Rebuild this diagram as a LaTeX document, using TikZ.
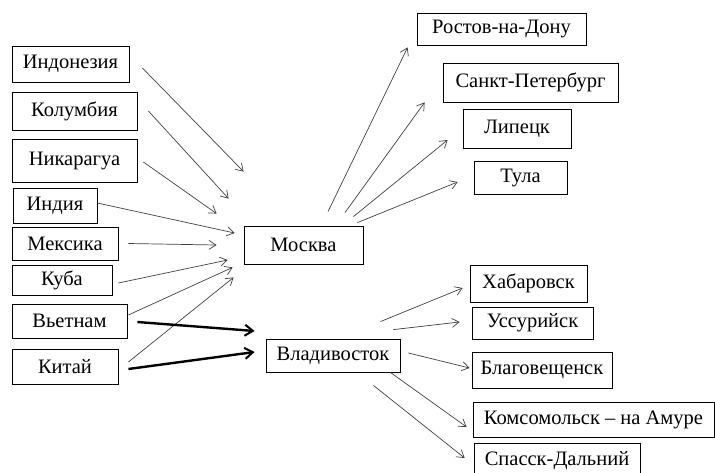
\documentclass[tikz,border=0pt]{standalone}
\usepackage{fontspec}
\setmainfont{Liberation Serif}
\usetikzlibrary{arrows.meta}

\begin{document}
\begin{tikzpicture}[x=1pt, y=-1pt,
  box/.style={rectangle, draw, line width=0.8pt, inner sep=0pt, font=\fontsize{20.5}{23}\selectfont},
  arr/.style={-{Straight Barb[length=7pt, width=9pt]}, draw=black!75, line width=0.7pt},
  fat/.style={-{Straight Barb[length=8pt, width=11pt, line width=2pt]}, line width=2.4pt}]
\useasboundingbox (0,0) rectangle (715,472);

\node[box, minimum width=117pt, minimum height=36pt] (Ind) at (70.5,64) {Индонезия};
\node[box, minimum width=125pt, minimum height=38pt] (Kol) at (74.5,111) {Колумбия};
\node[box, minimum width=125pt, minimum height=43pt] (Nik) at (74.5,160.5) {Никарагуа};
\node[box, minimum width=84pt, minimum height=35pt] (India) at (55,205.5) {Индия};
\node[box, minimum width=106pt, minimum height=33pt] (Mex) at (65,243.5) {Мексика};
\node[box, minimum width=100pt, minimum height=30pt] (Kuba) at (62,280) {Куба};
\node[box, minimum width=115pt, minimum height=34pt] (Viet) at (69.5,321) {Вьетнам};
\node[box, minimum width=106pt, minimum height=35pt] (Kit) at (65,366.5) {Китай};

\node[box, minimum width=119pt, minimum height=38pt] (Msk) at (303.5,245) {Москва};
\node[box, minimum width=134pt, minimum height=33pt] (Vlad) at (333,355.5) {Владивосток};

\node[box, minimum width=169pt, minimum height=32pt] (Rost) at (501.5,29) {Ростов-на-Дону};
\node[box, minimum width=175pt, minimum height=39pt] (Spb) at (530.5,82.5) {Санкт-Петербург};
\node[box, minimum width=108pt, minimum height=39pt] (Lip) at (517,128.5) {Липецк};
\node[box, minimum width=93pt, minimum height=33pt] (Tula) at (520.5,177.5) {Тула};

\node[box, minimum width=117pt, minimum height=37pt] (Hab) at (528.5,283.5) {Хабаровск};
\node[box, minimum width=121pt, minimum height=32pt] (Uss) at (532.5,323) {Уссурийск};
\node[box, minimum width=140pt, minimum height=36pt] (Blag) at (542,370) {Благовещенск};
\node[box, minimum width=241pt, minimum height=35pt] (Koms) at (593.5,419.5) {Комсомольск – на Амуре};
\node[box, minimum width=166pt, minimum height=35pt] (Spas) at (557,460.5) {Спасск-Дальний};

% into Moscow
\draw[arr] ([shift={(13,4)}]Ind.east) -- ([shift={(0,-54)}]Msk.north west);
\draw[arr] ([shift={(11,0)}]Kol.east) -- ([shift={(-15,-27)}]Msk.north west);
\draw[arr] ([shift={(6,1.5)}]Nik.east) -- ([shift={(-27,-12)}]Msk.north west);
\draw[arr] ([shift={(0,-2.5)}]India.east) -- ([shift={(-9,-12)}]Msk.west);
\draw[arr] ([shift={(10,0)}]Mex.east) -- ([shift={(-27,0)}]Msk.west);
\draw[arr] ([shift={(6,3)}]Kuba.east) -- ([shift={(-16,15)}]Msk.west);
\draw[arr] ([shift={(1,-6)}]Viet.east) -- ([shift={(-11,3)}]Msk.south west);
\draw[arr] ([shift={(10,-4.5)}]Kit.east) -- ([shift={(-10,13)}]Msk.south west);

% into Vladivostok
\draw[fat] ([shift={(10,1)}]Viet.east) -- ([shift={(-11,-24.5)}]Vlad.west);
\draw[fat] ([shift={(10,2.5)}]Kit.east) -- ([shift={(-11,-3.5)}]Vlad.west);

% out of Moscow
\draw[arr] ([shift={(24.5,-14)}]Msk.north) -- ([shift={(-9,2)}]Rost.south west);
\draw[arr] ([shift={(41.5,-13)}]Msk.north) -- ([shift={(-18,0)}]Spb.south west);
\draw[arr] ([shift={(-10,-9)}]Msk.north east) -- ([shift={(-15,11.5)}]Lip.west);
\draw[arr] ([shift={(-6,-3)}]Msk.north east) -- ([shift={(-16,4.5)}]Tula.west);

% out of Vladivostok
\draw[arr] ([shift={(-20,-17)}]Vlad.north east) -- ([shift={(-7,4.5)}]Hab.west);
\draw[arr] ([shift={(-7,-9)}]Vlad.north east) -- ([shift={(-12,-1)}]Uss.west);
\draw[arr] ([shift={(8,-2.5)}]Vlad.east) -- ([shift={(-2,-2)}]Blag.west);
\draw[arr] ([shift={(-10,0)}]Vlad.south east) -- ([shift={(-6,7.5)}]Koms.west);
\draw[arr] ([shift={(-27,13)}]Vlad.south east) -- ([shift={(-9,-2.5)}]Spas.west);
\end{tikzpicture}
\end{document}
